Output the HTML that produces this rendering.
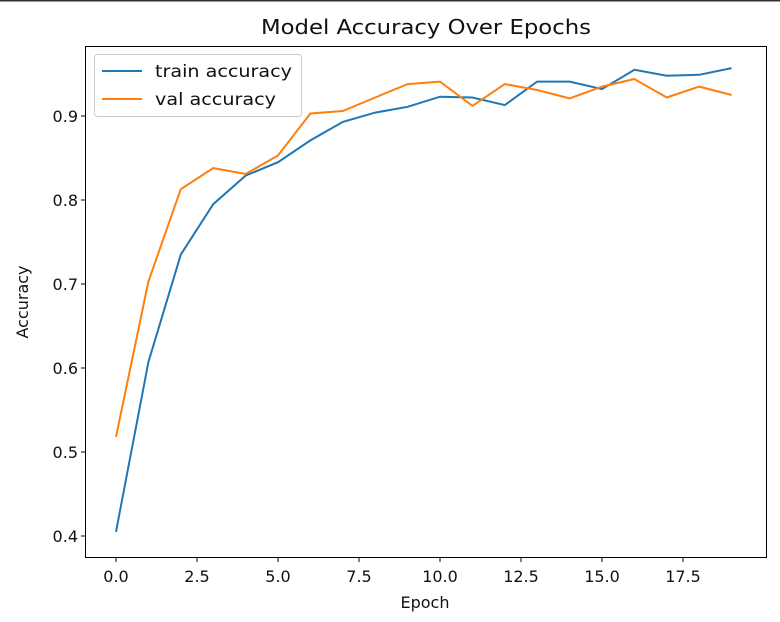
<!DOCTYPE html><html><head><style>body{margin:0;background:#fff}svg{display:block;font-family:"DejaVu Sans","Liberation Sans",sans-serif}</style></head><body>
<svg width="780" height="622" viewBox="0 0 780 622">
<rect width="780" height="622" fill="#fff"/>
<line x1="0" y1="0.5" x2="780" y2="0.5" stroke="#333" stroke-width="2"/>
<text x="261" y="34" font-size="20" textLength="330" lengthAdjust="spacingAndGlyphs" fill="#111">Model Accuracy Over Epochs</text>
<rect x="85.5" y="46.5" width="681" height="511" fill="none" stroke="#000" stroke-width="1"/>
<g stroke="#000" stroke-width="1">
<line x1="81" x2="85" y1="536" y2="536"/><line x1="81" x2="85" y1="452" y2="452"/><line x1="81" x2="85" y1="368" y2="368"/><line x1="81" x2="85" y1="284" y2="284"/><line x1="81" x2="85" y1="200" y2="200"/><line x1="81" x2="85" y1="116" y2="116"/>
<line y1="558" y2="562" x1="116" x2="116"/><line y1="558" y2="562" x1="197" x2="197"/><line y1="558" y2="562" x1="278" x2="278"/><line y1="558" y2="562" x1="359" x2="359"/><line y1="558" y2="562" x1="440" x2="440"/><line y1="558" y2="562" x1="521" x2="521"/><line y1="558" y2="562" x1="602" x2="602"/><line y1="558" y2="562" x1="683" x2="683"/>
</g>
<g font-size="16" fill="#111" text-anchor="end">
<text x="78" y="542">0.4</text><text x="78" y="458">0.5</text><text x="78" y="374">0.6</text><text x="78" y="290">0.7</text><text x="78" y="206">0.8</text><text x="78" y="122">0.9</text>
</g>
<g font-size="16" fill="#111" text-anchor="middle">
<text x="116" y="582">0.0</text><text x="197" y="582">2.5</text><text x="278" y="582">5.0</text><text x="359" y="582">7.5</text><text x="440" y="582">10.0</text><text x="521" y="582">12.5</text><text x="602" y="582">15.0</text><text x="683" y="582">17.5</text>
<text x="425" y="608">Epoch</text>
<text transform="translate(28,302) rotate(-90)">Accuracy</text>
</g>
<polyline fill="none" stroke="#1f77b4" stroke-width="2" points="116,531.8 148.4,362.1 180.8,254.6 213.2,204.2 245.6,175.6 278,162.2 310.4,140.4 342.8,121.9 375.2,112.6 407.6,106.8 440,96.7 472.4,97.5 504.8,105.1 537.2,81.6 569.6,81.6 602,89.1 634.4,69.8 666.8,75.7 699.2,74.8 731.6,68.1"/>
<polyline fill="none" stroke="#ff7f0e" stroke-width="2" points="116,436.9 148.4,281.5 180.8,189.1 213.2,168.1 245.6,174 278,155.5 310.4,113.5 342.8,111 375.2,97.5 407.6,84.1 440,81.6 472.4,105.9 504.8,84.1 537.2,90 569.6,98.4 602,86.6 634.4,79 666.8,97.5 699.2,86.6 731.6,95"/>
<rect x="94.5" y="54.5" width="207" height="62" rx="3" fill="#fff" fill-opacity="0.8" stroke="#ccc"/>
<line x1="102" x2="142" y1="71" y2="71" stroke="#1f77b4" stroke-width="2"/>
<line x1="102" x2="142" y1="99" y2="99" stroke="#ff7f0e" stroke-width="2"/>
<g font-size="17" fill="#111"><text x="155" y="77" textLength="137" lengthAdjust="spacingAndGlyphs">train accuracy</text><text x="155" y="105" textLength="121" lengthAdjust="spacingAndGlyphs">val accuracy</text></g>
</svg></body></html>
